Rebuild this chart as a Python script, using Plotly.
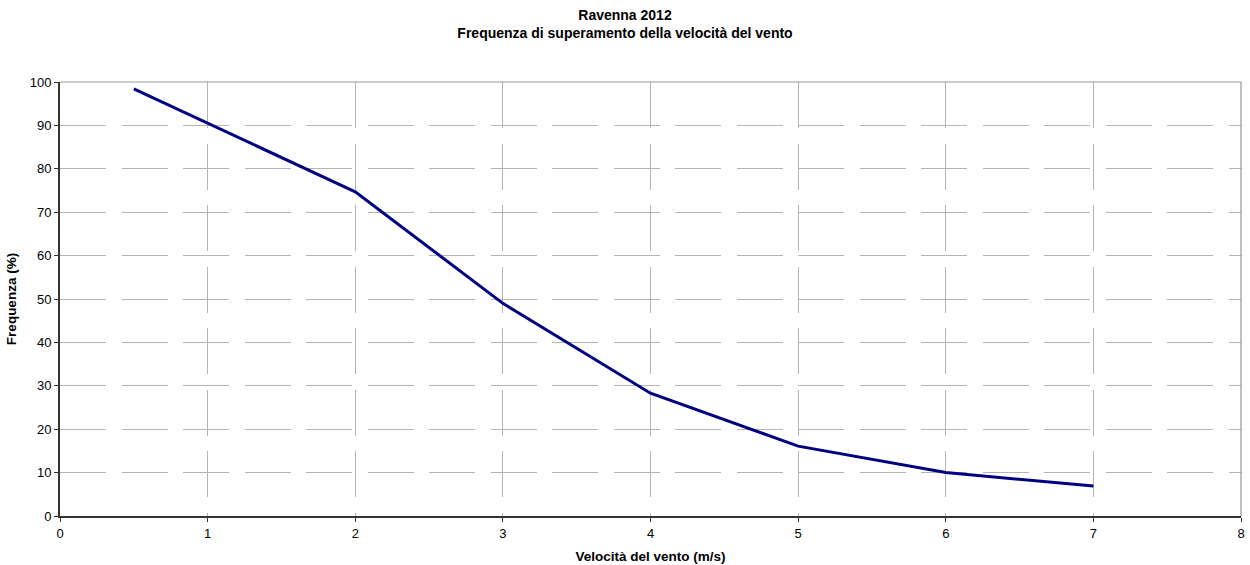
import plotly.graph_objects as go

# Wind speed thresholds (m/s) and exceedance frequency (%)
velocita = [0.5, 2, 3, 4, 5, 6, 7]
frequenza = [98.4, 74.7, 49.0, 28.3, 16.1, 10.0, 6.9]

x_ticks = [0, 1, 2, 3, 4, 5, 6, 7, 8]
y_ticks = [0, 10, 20, 30, 40, 50, 60, 70, 80, 90, 100]

FONT = "Liberation Sans, Arial, sans-serif"
GRID = "#b4b4b4"

fig = go.Figure()
fig.add_trace(go.Scatter(
    x=velocita, y=frequenza, mode="lines",
    line=dict(color="#000080", width=3),
    showlegend=False, hoverinfo="x+y",
))

fig.update_layout(
    width=1250, height=565,
    margin=dict(l=60, r=9, t=82, b=49, autoexpand=False),
    paper_bgcolor="white", plot_bgcolor="white",
    font=dict(family=FONT, size=13, color="black"),
    title=dict(
        text="<b>Ravenna 2012<br>Frequenza di superamento della velocità del vento</b>",
        x=0.5, xanchor="center", yref="container", y=1 - 20 / 565, yanchor="middle",
        font=dict(family=FONT, size=14, color="black"),
    ),
)

fig.update_xaxes(
    range=[0, 8], tickvals=x_ticks, ticktext=[str(v) for v in x_ticks],
    showgrid=True, gridcolor=GRID, gridwidth=1, griddash="46px,15.5px",
    showline=True, linecolor="#333333", linewidth=2,
    ticks="outside", ticklen=4, tickcolor="#333333", tickwidth=1,
    tickfont=dict(size=13), automargin=False,
    zeroline=False,
    title=dict(text="<b>Velocità del vento (m/s)</b>", font=dict(family=FONT, size=13.5), standoff=12),
)
fig.update_yaxes(
    range=[0, 100], tickvals=y_ticks, ticktext=[str(v) for v in y_ticks],
    showgrid=True, gridcolor=GRID, gridwidth=1, griddash="46px,15.5px",
    showline=True, linecolor="#333333", linewidth=2,
    ticks="outside", ticklen=4, tickcolor="#333333", tickwidth=1,
    tickfont=dict(size=13), automargin=False,
    zeroline=False,
    title=dict(text="<b>Frequenza (%)</b>", font=dict(family=FONT, size=13.5), standoff=10),
)

# Plot-area frame on the top and right sides
fig.add_shape(type="line", xref="paper", yref="paper", x0=0, x1=1, y0=1, y1=1,
              line=dict(color="#9a9a9a", width=1))
fig.add_shape(type="line", xref="paper", yref="paper", x0=1, x1=1, y0=0, y1=1,
              line=dict(color="#808080", width=1))

fig.write_html("out.html")
